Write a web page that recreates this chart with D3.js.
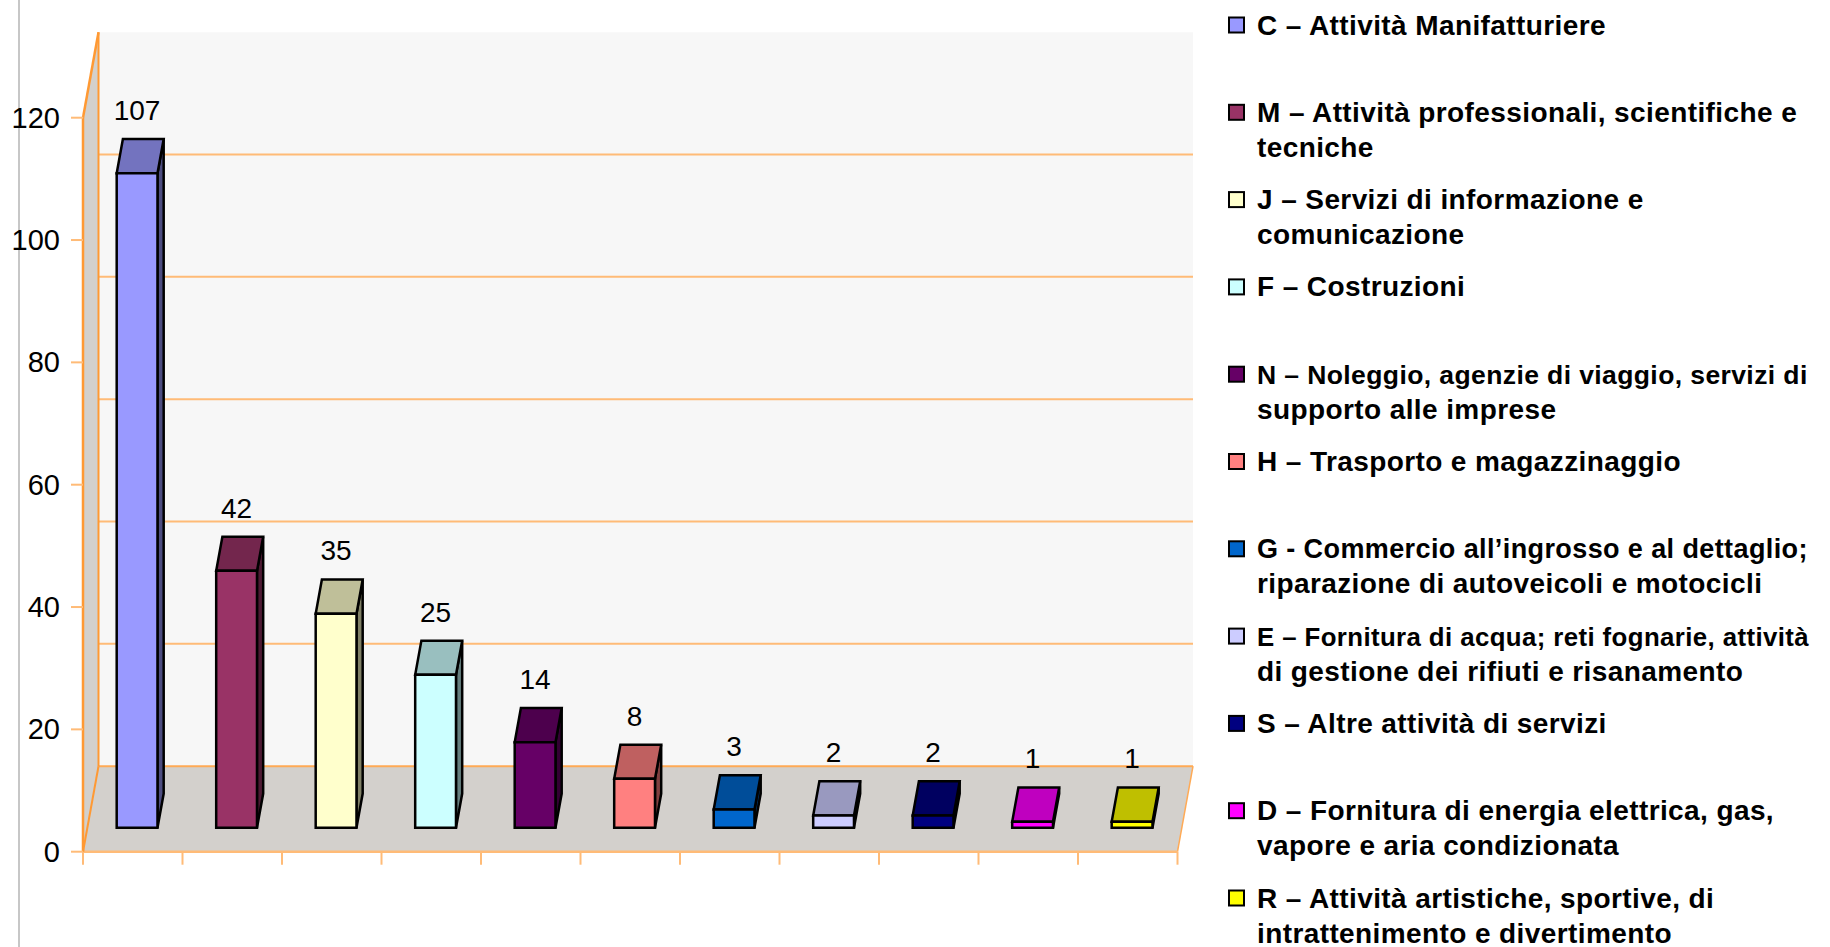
<!DOCTYPE html>
<html><head><meta charset="utf-8">
<script src="https://cdn.jsdelivr.net/npm/d3@7"></script>
<style>
html,body{margin:0;padding:0;background:#fff;overflow:hidden}
svg{display:block;font-family:"Liberation Sans",Arial,sans-serif}
</style></head><body>
<svg id="chart" width="1830" height="947"></svg>
<script>
// ---- data ----
const categories = ["C","M","J","F","N","H","G","E","S","D","R"];
const values = [107, 42, 35, 25, 14, 8, 3, 2, 2, 1, 1];
const barColors = ["#9999FF","#993366","#FFFFCC","#CCFFFF","#660066","#FF8080","#0066CC","#CCCCFF","#000080","#FF00FF","#FFFF00"];
const legendLines = [
  ["C – Attività Manifatturiere"],
  ["M – Attività professionali, scientifiche e", "tecniche"],
  ["J – Servizi di informazione e", "comunicazione"],
  ["F – Costruzioni"],
  ["N – Noleggio, agenzie di viaggio, servizi di", "supporto alle imprese"],
  ["H – Trasporto e magazzinaggio"],
  ["G - Commercio all’ingrosso e al dettaglio;", "riparazione di autoveicoli e motocicli"],
  ["E – Fornitura di acqua; reti fognarie, attività", "di gestione dei rifiuti e risanamento"],
  ["S – Altre attività di servizi"],
  ["D – Fornitura di energia elettrica, gas,", "vapore e aria condizionata"],
  ["R – Attività artistiche, sportive, di", "intrattenimento e divertimento"]
];
const yTicks = [0, 20, 40, 60, 80, 100, 120];

// ---- layout ----
const W = 1830, H = 947;
const svg = d3.select("#chart");
const x = d3.scaleBand().domain(categories).range([83, 1177.5]);
const y = d3.scaleLinear().domain([0, 120]).range([851.7, 117.7]);
const DX = 15.5, DY = -85.5;           // depth vector of the 3D box
const P = (px, py, d) => [px + d * DX, py + d * DY];
const D1 = 0.28, D2 = 0.68, BW = 0.41; // bar depth span and width share
const ORANGE = "#ff9933", LORANGE = "#ffbb77";

const shade = (c, k) => { const r = d3.rgb(c); return d3.rgb(r.r * k, r.g * k, r.b * k).formatHex(); };
const poly = (g, pts, fill, stroke, sw) => g.append("polygon")
  .attr("points", pts.map(p => p.join(",")).join(" "))
  .attr("fill", fill).attr("stroke", stroke || "none").attr("stroke-width", sw || 0)
  .attr("stroke-linejoin", "miter");
const line = (g, a, b, col, sw) => g.append("line")
  .attr("x1", a[0]).attr("y1", a[1]).attr("x2", b[0]).attr("y2", b[1])
  .attr("stroke", col).attr("stroke-width", sw);

// far-left slide border line
line(svg, [19, 0], [19, H], "#b4b4b4", 1.5);

const xa = x.range()[0], xb = x.range()[1];
const y0 = y(0), yT = y(120);
const walls = svg.append("g");
poly(walls, [P(xa, yT, 1), P(xb, yT, 1), P(xb, y0, 1), P(xa, y0, 1)], "#f7f7f7");   // back wall
poly(walls, [P(xa, y0, 0), P(xa, yT, 0), P(xa, yT, 1), P(xa, y0, 1)], "#d3d0cc");   // left wall
poly(walls, [P(xa, y0, 0), P(xb, y0, 0), P(xb, y0, 1), P(xa, y0, 1)], "#d3d0cc");   // floor

yTicks.filter(v => v > 0 && v < 120).forEach(v => line(walls, P(xa, y(v), 1), P(xb, y(v), 1), LORANGE, 2));
line(walls, P(xa, y0, 1), P(xb, y0, 1), "#ffaa55", 2);
line(walls, P(xb, y0, 0), P(xb, y0, 1), "#ffaa55", 1.5);
line(walls, P(xa, y0, 0), P(xb, y0, 0), LORANGE, 2.5);
line(walls, P(xa, y0, 0), P(xa, yT, 0), ORANGE, 2.5);
line(walls, P(xa, yT, 0), P(xa, yT, 1), ORANGE, 2.5);
line(walls, P(xa, yT, 1), P(xa, y0, 1), ORANGE, 2);
line(walls, P(xa, y0, 0), P(xa, y0, 1), ORANGE, 2);

// y axis ticks and labels
const ax = svg.append("g");
yTicks.forEach(v => {
  line(ax, [xa - 12, y(v)], [xa, y(v)], LORANGE, 2);
  ax.append("text").attr("x", xa - 23).attr("y", y(v) + 10)
    .attr("text-anchor", "end").attr("font-size", 29).attr("fill", "#000").text(v);
});
categories.map(c => x(c)).concat([xb]).forEach(px => line(ax, [px, y0], [px, y0 + 13], LORANGE, 2));

// bars
const bars = svg.append("g");
categories.forEach((c, i) => {
  const v = values[i], col = barColors[i];
  const bx0 = x(c) + x.bandwidth() * (1 - BW) / 2, bx1 = bx0 + x.bandwidth() * BW;
  const yb = y(0), yt = y(v);
  const g = bars.append("g");
  poly(g, [P(bx1, yb, D1), P(bx1, yt, D1), P(bx1, yt, D2), P(bx1, yb, D2)], shade(col, 0.5), "#000", 2.5);
  poly(g, [P(bx0, yt, D1), P(bx1, yt, D1), P(bx1, yt, D2), P(bx0, yt, D2)], shade(col, 0.75), "#000", 2.5);
  poly(g, [P(bx0, yb, D1), P(bx1, yb, D1), P(bx1, yt, D1), P(bx0, yt, D1)], col, "#000", 2.5);
  const lp = P((bx0 + bx1) / 2, yt, D2);
  g.append("text").attr("x", (bx0 + bx1) / 2 + D1 * DX).attr("y", lp[1] - 19)
    .attr("text-anchor", "middle").attr("font-size", 28).attr("fill", "#000").text(v);
});

// legend
const FS = 28;
const lg = svg.append("g").attr("font-weight", "bold").attr("letter-spacing", "0.4px");
const LX = 1257, maxRight = 1808;
legendLines.forEach((lines, i) => {
  const base = 34.5 + i * 87.3;
  lg.append("rect").attr("x", 1229).attr("y", base - 17).attr("width", 15).attr("height", 15)
    .attr("fill", barColors[i]).attr("stroke", "#000").attr("stroke-width", 2);
  lines.forEach((t, j) => {
    const tx = lg.append("text").attr("x", LX).attr("y", base + j * 35)
      .attr("font-size", FS).attr("fill", "#000").text(t);
    const len = tx.node().getComputedTextLength();
    if (LX + len > maxRight) tx.attr("font-size", Math.floor(FS * (maxRight - LX) / len * 10) / 10);
  });
});
</script>
</body></html>
